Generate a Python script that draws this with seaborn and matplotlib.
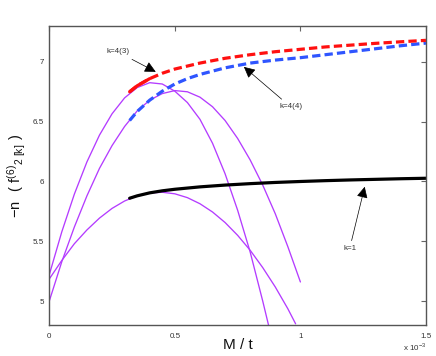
import numpy as np
import pandas as pd
import seaborn as sns
import matplotlib.pyplot as plt

# x values are in units of 1e-3 (as on the axis)
x_a = [0, 0.05, 0.1, 0.15, 0.2, 0.25, 0.3, 0.35, 0.4, 0.45, 0.5, 0.55, 0.6,
       0.65, 0.7, 0.75, 0.8, 0.85, 0.9, 0.95, 0.981]
y_a = [5.185, 5.34, 5.48, 5.595, 5.694, 5.775, 5.837, 5.88, 5.904, 5.91, 5.897,
       5.865, 5.814, 5.745, 5.657, 5.55, 5.425, 5.28, 5.118, 4.936, 4.81]

x_b = [0, 0.05, 0.1, 0.15, 0.2, 0.25, 0.3, 0.35, 0.4, 0.45, 0.5, 0.55, 0.6,
       0.65, 0.7, 0.75, 0.8, 0.85, 0.9, 0.95, 1.0]
y_b = [5.00, 5.33, 5.62, 5.88, 6.11, 6.30, 6.46, 6.59, 6.68, 6.735, 6.76, 6.75,
       6.705, 6.625, 6.51, 6.36, 6.18, 5.97, 5.73, 5.455, 5.16]

x_c = [0, 0.05, 0.1, 0.15, 0.2, 0.25, 0.3, 0.35, 0.4, 0.45, 0.5, 0.55, 0.6,
       0.65, 0.7, 0.75, 0.8, 0.85, 0.873]
y_c = [5.22, 5.58, 5.895, 6.164, 6.388, 6.566, 6.699, 6.785, 6.826, 6.815,
       6.755, 6.66, 6.52, 6.32, 6.065, 5.76, 5.41, 5.00, 4.80]

x_k1 = [0.32, 0.35, 0.4, 0.45, 0.5, 0.6, 0.7, 0.8, 0.9, 1.0, 1.1, 1.2, 1.3, 1.4, 1.5]
y_k1 = [5.86, 5.88, 5.905, 5.922, 5.935, 5.955, 5.97, 5.982, 5.992, 6.0, 6.007,
        6.013, 6.018, 6.023, 6.027]

x_k43 = [0.32, 0.35, 0.4, 0.45, 0.5, 0.6, 0.7, 0.8, 0.9, 1.0, 1.1, 1.2, 1.3, 1.4, 1.5]
y_k43 = [6.75, 6.80, 6.86, 6.905, 6.94, 6.99, 7.03, 7.06, 7.085, 7.105, 7.125,
         7.14, 7.155, 7.168, 7.18]

x_k44 = [0.32, 0.35, 0.4, 0.45, 0.5, 0.55, 0.6, 0.7, 0.8, 0.9, 1.0, 1.1, 1.2,
         1.3, 1.4, 1.5]
y_k44 = [6.51, 6.585, 6.68, 6.755, 6.815, 6.86, 6.895, 6.95, 6.99, 7.015, 7.035,
         7.06, 7.085, 7.11, 7.135, 7.157]

x_ticks = [0, 0.5, 1, 1.5]
x_ticklabels = ["0", "0.5", "1", "1.5"]
y_ticks = [5, 5.5, 6, 6.5, 7]
y_ticklabels = ["5", "5.5", "6", "6.5", "7"]

sns.set_style("white")
plt.rcParams['font.family'] = ['Liberation Sans', 'DejaVu Sans']
plt.rcParams['mathtext.fontset'] = 'custom'
plt.rcParams['mathtext.rm'] = 'Liberation Sans'

fig = plt.figure(figsize=(4.36, 3.56), dpi=100)
ax = fig.add_axes([0.113, 0.087, 0.864, 0.840])

magenta = '#b43cff'
for xs, ys in [(x_a, y_a), (x_b, y_b), (x_c, y_c)]:
    sns.lineplot(x=xs, y=ys, ax=ax, color=magenta, lw=0.95, estimator=None,
                 sort=False, solid_joinstyle='round')

sns.lineplot(x=x_k1, y=y_k1, ax=ax, color='black', lw=2.3, estimator=None, sort=False)

ln = sns.lineplot(x=x_k44, y=y_k44, ax=ax, color='#2f55ff', lw=2.3,
                  estimator=None, sort=False).lines[-1]
ln.set_dashes((2.6, 1.3))
ln = sns.lineplot(x=x_k43, y=y_k43, ax=ax, color='#ff1010', lw=2.3,
                  estimator=None, sort=False).lines[-1]
ln.set_dashes((2.6, 1.3))
# solid start of the red branch
sns.lineplot(x=x_k43[:3], y=y_k43[:3], ax=ax, color='#ff1010', lw=2.3,
             estimator=None, sort=False)

ax.set_xlim(0, 1.5)
ax.set_ylim(4.8, 7.3)
ax.set_xticks(x_ticks)
ax.set_xticklabels(x_ticklabels)
ax.set_yticks(y_ticks)
ax.set_yticklabels(y_ticklabels)
ax.tick_params(direction='in', length=3.5, width=0.8, colors='#666666',
               labelcolor='#333333', labelsize=5.8, top=True, right=True, pad=4)
ax.tick_params(axis='x', pad=5.5)
for s in ax.spines.values():
    s.set_color('#555555')
    s.set_linewidth(1.0)

ax.set_xlabel("M / t", fontsize=11, color='#111111')
ax.xaxis.set_label_coords(0.5, -0.045)
ax.set_ylabel(r"$\mathregular{-n\ \ (\ f^{(6)}{}_{2\ [k]}\ )}$", fontsize=10.5,
              color='#111111')
ax.yaxis.set_label_coords(-0.086, 0.5)
ax.yaxis.label.set_va('center')
ax.yaxis.label.set_ha('center')

fig.text(0.979, 0.025, r"x 10$^{-3}$", ha='right', va='center', fontsize=5.8,
         color='#333333')

aprops = dict(arrowstyle='-|>', color='black', lw=0.5, shrinkA=1, shrinkB=0,
              mutation_scale=17)
ax.annotate("k=4(3)", xy=(0.424, 6.917), xytext=(0.273, 7.083), ha='center',
            va='center', fontsize=5.8, color='#333333', arrowprops=aprops)
ax.annotate("k=4(4)", xy=(0.775, 6.958), xytext=(0.961, 6.624), ha='center',
            va='center', fontsize=5.8, color='#333333', arrowprops=aprops)
ax.annotate("k=1", xy=(1.256, 5.956), xytext=(1.196, 5.438), ha='center',
            va='center', fontsize=5.8, color='#333333', arrowprops=aprops)

fig.savefig("out.png", dpi=100)
